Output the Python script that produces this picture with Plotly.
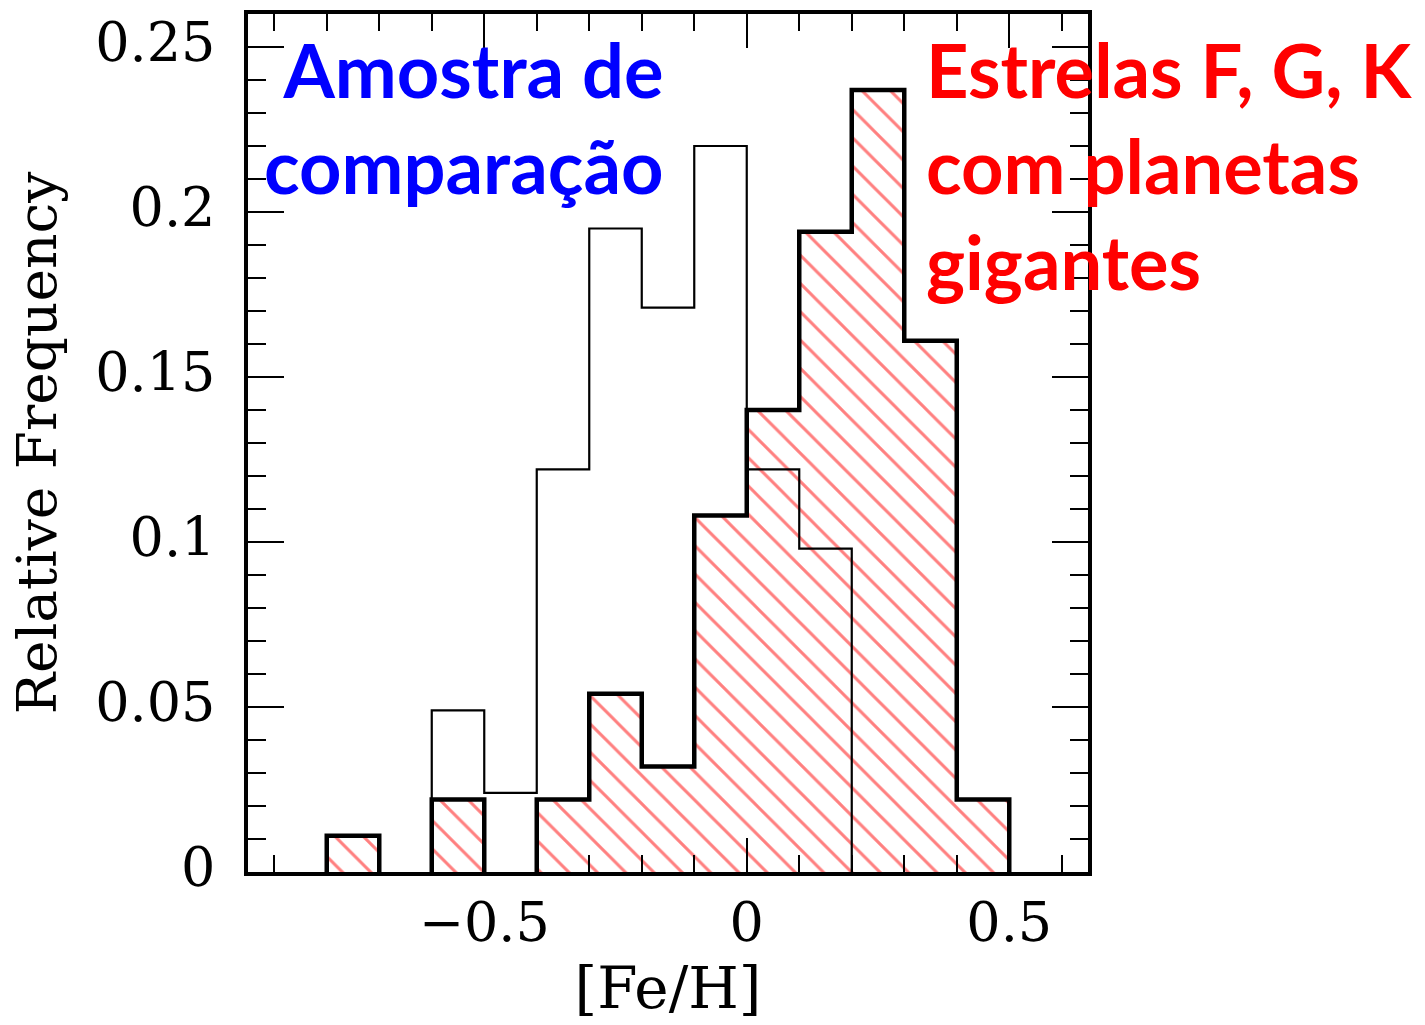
import plotly.graph_objects as go

# Metallicity bins ([Fe/H], width 0.1 dex)
bin_edges = [-0.8, -0.7, -0.6, -0.5, -0.4, -0.3, -0.2, -0.1, 0.0, 0.1, 0.2, 0.3, 0.4, 0.5]

# Relative frequency per bin: F, G, K stars hosting giant planets
planet_hosts = [0.011, 0.0, 0.022, 0.0, 0.022, 0.054, 0.032, 0.108, 0.140, 0.194, 0.237, 0.161, 0.022]

# Relative frequency per bin: comparison sample
comparison = [0.0, 0.0, 0.049, 0.024, 0.122, 0.195, 0.171, 0.220, 0.122, 0.098, 0.0, 0.0, 0.0]

x_ticks = [-0.5, 0.0, 0.5]
y_ticks = [0.0, 0.05, 0.1, 0.15, 0.2, 0.25]

label_host = "Estrelas F, G, K<br>com planetas<br>gigantes"
label_comp = "Amostra de<br>comparação"


def step_outline(edges, values):
    """Step outline of a histogram, one open path per run of non-empty bins
    (the baseline itself is left to the axis line)."""
    xs, ys = [], []
    run = False
    for i, v in enumerate(values):
        if v > 0:
            if not run:
                xs.append(edges[i])
                ys.append(0.0)
                run = True
            xs += [edges[i], edges[i + 1]]
            ys += [v, v]
        elif run:
            xs += [edges[i], None]
            ys += [0.0, None]
            run = False
    if run:
        xs.append(edges[len(values)])
        ys.append(0.0)
    return xs, ys


centers = [(a + b) / 2 for a, b in zip(bin_edges[:-1], bin_edges[1:])]
widths = [b - a for a, b in zip(bin_edges[:-1], bin_edges[1:])]

fig = go.Figure()

# Hatched fill of the planet-host histogram
fig.add_trace(go.Bar(
    x=centers, y=planet_hosts, width=widths,
    marker=dict(
        color="white",
        line=dict(width=0),
        pattern=dict(shape="\\", fgcolor="#ff0000", bgcolor="white",
                     size=20, solidity=0.15),
    ),
    hoverinfo="skip",
))

# Thick outline of the planet-host histogram
hx, hy = step_outline(bin_edges, planet_hosts)
fig.add_trace(go.Scatter(x=hx, y=hy, mode="lines",
                         line=dict(color="black", width=4.5),
                         connectgaps=False, hoverinfo="skip"))

# Thin outline of the comparison sample
cx, cy = step_outline(bin_edges, comparison)
fig.add_trace(go.Scatter(x=cx, y=cy, mode="lines",
                         line=dict(color="black", width=2.2),
                         connectgaps=False, hoverinfo="skip"))

tick_font = dict(family="DejaVu Serif", size=54, color="black")

fig.update_xaxes(
    range=[-0.95, 0.65],
    tickvals=x_ticks,
    ticks="inside", ticklen=34, tickwidth=2.2, tickcolor="black",
    minor=dict(dtick=0.1, tick0=0, ticks="inside", ticklen=17,
               tickwidth=2.2, tickcolor="black", showgrid=False),
    showline=True, linewidth=3.5, linecolor="black", mirror="allticks",
    showgrid=False, zeroline=False,
    tickfont=tick_font, ticklabelstandoff=0,
    title=dict(text="[Fe/H]", font=dict(family="DejaVu Serif", size=58, color="black"),
               standoff=15),
)
fig.update_yaxes(
    range=[0, 0.26],
    tickvals=y_ticks,
    ticks="inside", ticklen=36, tickwidth=2.2, tickcolor="black",
    minor=dict(dtick=0.01, tick0=0, ticks="inside", ticklen=18,
               tickwidth=2.2, tickcolor="black", showgrid=False),
    showline=True, linewidth=3.5, linecolor="black", mirror="allticks",
    showgrid=False, zeroline=False,
    tickfont=tick_font, ticklabelstandoff=18, ticklabelshift=-5,
    title=dict(text="Relative Frequency",
               font=dict(family="DejaVu Serif", size=55, color="black"),
               standoff=22),
)

fig.add_annotation(
    text=label_comp, xref="paper", yref="paper",
    x=0.498, y=0.99, xanchor="right", yanchor="top", align="right",
    showarrow=False,
    font=dict(family="Lato", size=74, color="#0000ff", weight="bold"),
)
fig.add_annotation(
    text=label_host, xref="paper", yref="paper",
    x=0.805, y=0.99, xanchor="left", yanchor="top", align="left",
    showarrow=False,
    font=dict(family="Lato", size=74, color="#ff0000", weight="bold"),
)

fig.update_layout(
    width=1425, height=1025,
    margin=dict(l=248, r=337, t=10, b=153),
    plot_bgcolor="white", paper_bgcolor="white",
    showlegend=False, bargap=0,
)

fig.write_html("out.html")
